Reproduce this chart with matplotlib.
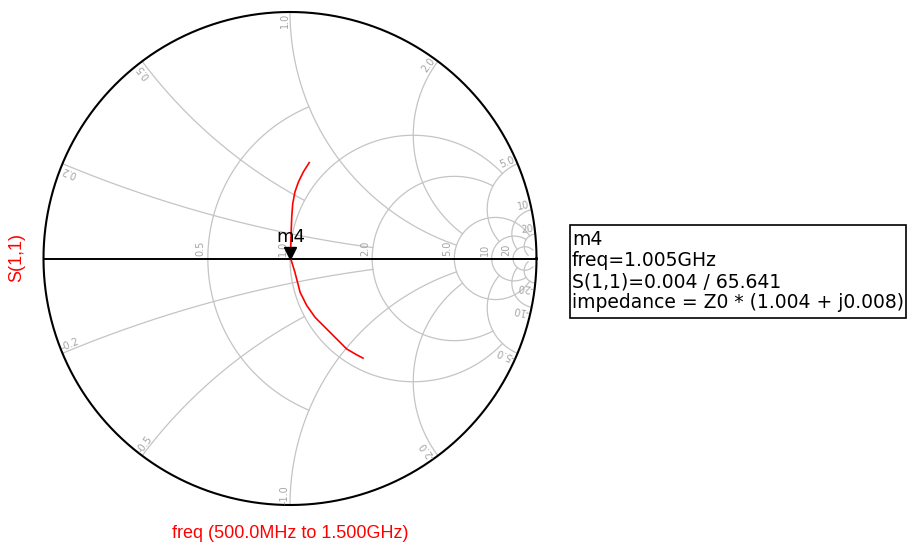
import numpy as np
import matplotlib.pyplot as plt
from matplotlib import transforms
from matplotlib.patches import Rectangle

W, H = 907, 543

# S(1,1) reflection coefficient along the sweep (500 MHz -> 1.5 GHz)
s11_re = [0.078, 0.054, 0.034, 0.020, 0.011, 0.007, 0.004, 0.00165, 0.020, 0.041,
          0.068, 0.102, 0.135, 0.183, 0.230, 0.271, 0.296]
s11_im = [0.389, 0.351, 0.310, 0.270, 0.222, 0.168, 0.087, 0.00364, -0.056, -0.137,
          -0.191, -0.239, -0.272, -0.320, -0.367, -0.391, -0.404]

# marker m4
m4_freq = "1.005GHz"
m4_mag = 0.004
m4_ang = 65.641
m4_z_re, m4_z_im = 1.004, 0.008

# smith grid: circle value and how far along the other family it is drawn
r_circles = [0.5, 1.0, 2.0, 5.0, 10.0, 20.0]
r_limits = [1.0, 5.0, 5.0, 20.0, 20.0, 50.0]
r_labels = ["0.5", "1.0", "2.0", "5.0", "10", "20"]
x_arcs = [0.2, 0.5, 1.0, 2.0, 5.0, 10.0, 20.0]
x_limits = [2.0, 1.0, 5.0, 5.0, 10.0, 20.0, 50.0]
x_labels = ["0.2", "0.5", "1.0", "2.0", "5.0", "10", "20"]

grid_c = "#c4c4c4"
lab_c = "#a4a4a4"


def gamma(z):
    return (z - 1) / (z + 1)


fig = plt.figure(figsize=(W / 100, H / 100), dpi=100)

# chart centre and radius in pixels
cx, cy, R = 290, 258.5, 246.5
L = 1.05
half = R * L
ax = fig.add_axes([(cx - half) / W, (H - cy - half) / H, 2 * half / W, 2 * half / H])
ax.set_xlim(-L, L)
ax.set_ylim(-L, L)
ax.axis("off")

# constant resistance circles
for r, xm, lab in zip(r_circles, r_limits, r_labels):
    t = np.linspace(-np.arctan(xm), np.arctan(xm), 600)
    g = gamma(r + 1j * np.tan(t))
    ax.plot(g.real, g.imag, color=grid_c, lw=0.9, zorder=1)
    g0 = (r - 1) / (r + 1)
    ax.text(g0 - 0.008, 0.012, lab, rotation=90, ha="left", va="bottom",
            rotation_mode="anchor", fontsize=7, color=lab_c)

# constant reactance arcs
for x, rm, lab in zip(x_arcs, x_limits, x_labels):
    t = np.linspace(0, np.arctan(rm), 500)
    for s in (1, -1):
        g = gamma(np.tan(t) + 1j * s * x)
        ax.plot(g.real, g.imag, color=grid_c, lw=0.9, zorder=1)
        th = np.angle(gamma(1j * s * x))
        px, py = 0.995 * np.cos(th), 0.995 * np.sin(th)
        if s > 0:
            ax.text(px, py, lab, rotation=np.degrees(th), ha="right", va="bottom",
                    rotation_mode="anchor", fontsize=7, color=lab_c)
        else:
            ax.text(px, py, "-" + lab, rotation=np.degrees(th) + 180, ha="left",
                    va="bottom", rotation_mode="anchor", fontsize=7, color=lab_c)

# outer circle and real axis
th = np.linspace(0, 2 * np.pi, 800)
ax.plot(np.cos(th), np.sin(th), color="black", lw=1.5, zorder=2)
ax.plot([-1, 1], [0, 0], color="black", lw=1.4, zorder=2)

# trace
ax.plot(s11_re, s11_im, color="red", lw=1.2, zorder=3)

# marker
mu = m4_mag * np.cos(np.radians(m4_ang))
mv = m4_mag * np.sin(np.radians(m4_ang))
tri = transforms.offset_copy(ax.transData, fig=fig, y=5, units="dots")
ax.plot([mu], [mv], marker="v", color="black", ms=8, transform=tri, zorder=4)
ax.annotate("m4", xy=(mu, mv), xytext=(0, 11.5), textcoords="offset points",
            ha="center", va="baseline", fontsize=13, color="black", zorder=4)


def fx(px):
    return px / W


def fy(py):
    return 1 - py / H


sans = ["Liberation Sans", "DejaVu Sans"]
fig.text(fx(17), fy(257), "S(1,1)", rotation=90, ha="center", va="center",
         color="red", fontsize=13, family=sans)
fig.text(fx(290), fy(538), "freq (500.0MHz to 1.500GHz)", ha="center",
         va="baseline", color="red", fontsize=13, family=sans)

# marker readout box
fig.add_artist(Rectangle((fx(570), fy(318)), fx(336), 93 / H, transform=fig.transFigure,
                         fill=False, ec="black", lw=1.2))
lines = ["m4",
         "freq=" + m4_freq,
         "S(1,1)=%.3f / %.3f" % (m4_mag, m4_ang),
         "impedance = Z0 * (%.3f + j%.3f)" % (m4_z_re, m4_z_im)]
for i, s in enumerate(lines):
    fig.text(fx(572), fy(245 + 21 * i), s, ha="left", va="baseline",
             fontsize=13.5, color="black")

fig.savefig("out.png", dpi=100)
